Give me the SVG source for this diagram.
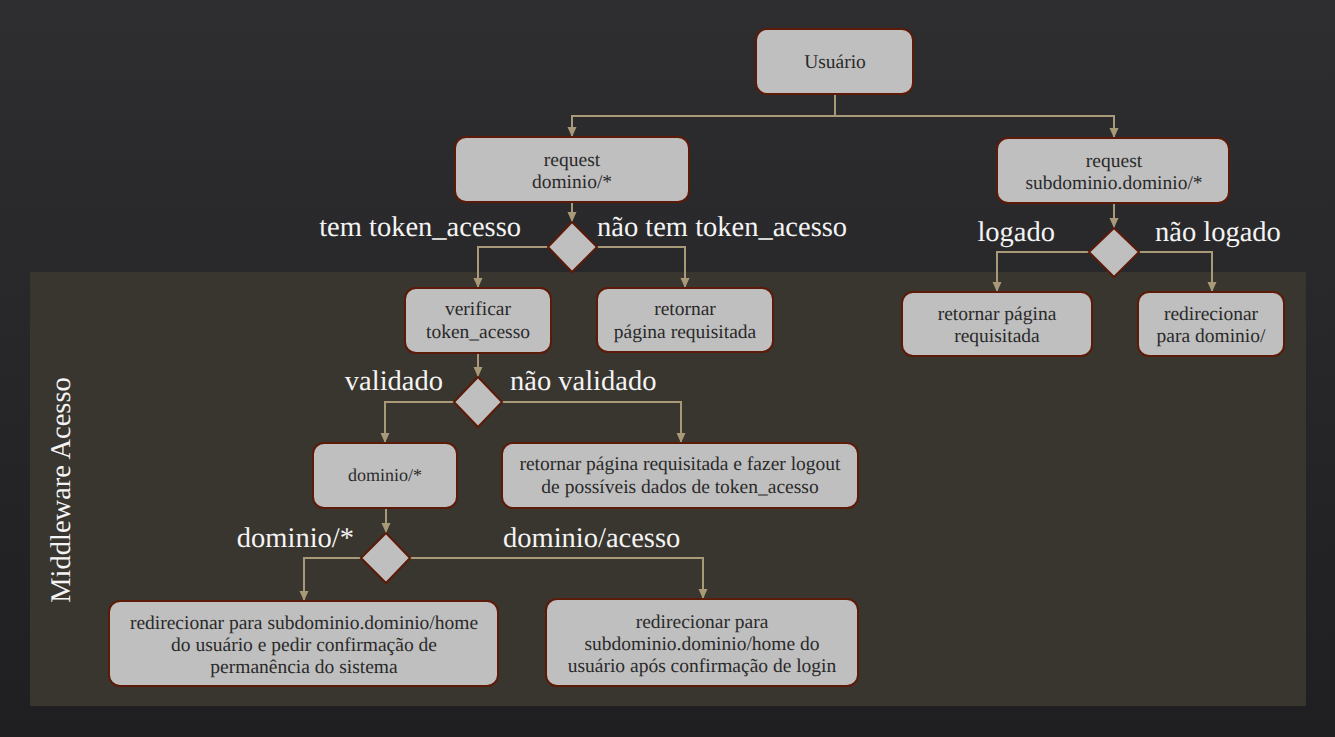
<svg xmlns="http://www.w3.org/2000/svg" width="1335" height="737" viewBox="0 0 1335 737" font-family="'Liberation Serif', 'Times New Roman', serif" text-rendering="geometricPrecision">
<defs>
<linearGradient id="bg" x1="0" y1="0" x2="0" y2="1">
<stop offset="0" stop-color="#2e2e30"/>
<stop offset="1" stop-color="#1f1f21"/>
</linearGradient>
<marker id="arr" markerUnits="userSpaceOnUse" markerWidth="10" markerHeight="10" refX="10" refY="5" orient="auto">
<path d="M0,0.5 L10,5 L0,9.5 z" fill="#a89a78"/>
</marker>
<style>
.box{fill:#bfbfbf;stroke:#5c1a08;stroke-width:2}
.dia{fill:#bfbfbf;stroke:#5c1a08;stroke-width:2}
.bt{font-family:'Liberation Serif', 'Times New Roman', serif;font-size:19.5px;fill:#2a2a2a;text-anchor:middle}
.lbl{font-family:'Liberation Serif', 'Times New Roman', serif;font-size:28.5px;fill:#f4f4f4}
.con path{fill:none;stroke:#a89a78;stroke-width:2;marker-end:url(#arr)}
</style>
</defs>
<rect x="0" y="0" width="1335" height="737" fill="url(#bg)"/>
<rect id="panel" x="30" y="272" width="1276" height="434" fill="#39352f"/>
<text class="lbl" transform="translate(70,490) rotate(-90)" text-anchor="middle">Middleware Acesso</text>

<g id="connectors" class="con">
<path d="M835,94 V116 H572 V137"/>
<path d="M835,116 H1114 V138"/>
<path d="M572,202 V222"/>
<path d="M548,247 H478 V288"/>
<path d="M597,247 H685 V288"/>
<path d="M1114,203 V228"/>
<path d="M1089,252 H997 V292"/>
<path d="M1139,252 H1212 V292"/>
<path d="M478,353 V377"/>
<path d="M454,402 H385 V443"/>
<path d="M502,402 H681 V443"/>
<path d="M386,508 V533"/>
<path d="M361,558 H304 V601"/>
<path d="M410,558 H703 V599"/>
</g>

<g id="usuario"><rect class="box" x="756" y="29" width="157" height="65" rx="11"/><text class="bt" x="835" y="68">Usuário</text></g>
<g id="req_dominio"><rect class="box" x="455" y="137" width="234" height="65" rx="11"/><text class="bt" x="572" y="166">request</text><text class="bt" x="572" y="188">dominio/*</text></g>
<g id="req_subdominio"><rect class="box" x="997" y="138" width="232" height="65" rx="11"/><text class="bt" x="1114" y="167">request</text><text class="bt" x="1114" y="189">subdominio.dominio/*</text></g>

<g id="dec_token"><polygon class="dia" points="572,222 597,247 572,272 548,247"/><text class="lbl" x="521" y="236" text-anchor="end">tem token_acesso</text><text class="lbl" x="597" y="236">não tem token_acesso</text></g>
<g id="dec_logado"><polygon class="dia" points="1114,228 1139,252 1114,277 1089,252"/><text class="lbl" x="1055" y="241" text-anchor="end">logado</text><text class="lbl" x="1155" y="241">não logado</text></g>

<g id="verificar"><rect class="box" x="405" y="288" width="146" height="65" rx="11"/><text class="bt" x="478" y="315">verificar</text><text class="bt" x="478" y="338">token_acesso</text></g>
<g id="retornar_pagina"><rect class="box" x="597" y="288" width="176" height="64" rx="11"/><text class="bt" x="685" y="315">retornar</text><text class="bt" x="685" y="338">página requisitada</text></g>
<g id="retornar_pagina_sub"><rect class="box" x="902" y="292" width="190" height="64" rx="11"/><text class="bt" x="997" y="320">retornar página</text><text class="bt" x="997" y="342">requisitada</text></g>
<g id="redirecionar_dominio"><rect class="box" x="1138" y="292" width="146" height="64" rx="11"/><text class="bt" x="1211" y="320">redirecionar</text><text class="bt" x="1211" y="342">para dominio/</text></g>

<g id="dec_validado"><polygon class="dia" points="478,377 502,402 478,427 454,402"/><text class="lbl" x="443" y="390" text-anchor="end">validado</text><text class="lbl" x="510" y="390">não validado</text></g>

<g id="dominio_box"><rect class="box" x="313" y="443" width="144" height="65" rx="11"/><text class="bt" x="385" y="481" style="font-size:18px">dominio/*</text></g>
<g id="logout_box"><rect class="box" x="502" y="443" width="356" height="65" rx="11"/><text class="bt" x="680" y="470">retornar página requisitada e fazer logout</text><text class="bt" x="680" y="493">de possíveis dados de token_acesso</text></g>

<g id="dec_dominio"><polygon class="dia" points="386,533 410,558 386,583 361,558"/><text class="lbl" x="354" y="547" text-anchor="end">dominio/*</text><text class="lbl" x="503" y="547">dominio/acesso</text></g>

<g id="redir_confirm"><rect class="box" x="109" y="601" width="389" height="85" rx="11"/><text class="bt" x="304" y="629">redirecionar para subdominio.dominio/home</text><text class="bt" x="304" y="651">do usuário e pedir confirmação de</text><text class="bt" x="304" y="673">permanência do sistema</text></g>
<g id="redir_login"><rect class="box" x="546" y="599" width="312" height="87" rx="11"/><text class="bt" x="702" y="628">redirecionar para</text><text class="bt" x="702" y="650">subdominio.dominio/home do</text><text class="bt" x="702" y="672">usuário após confirmação de login</text></g>
</svg>
